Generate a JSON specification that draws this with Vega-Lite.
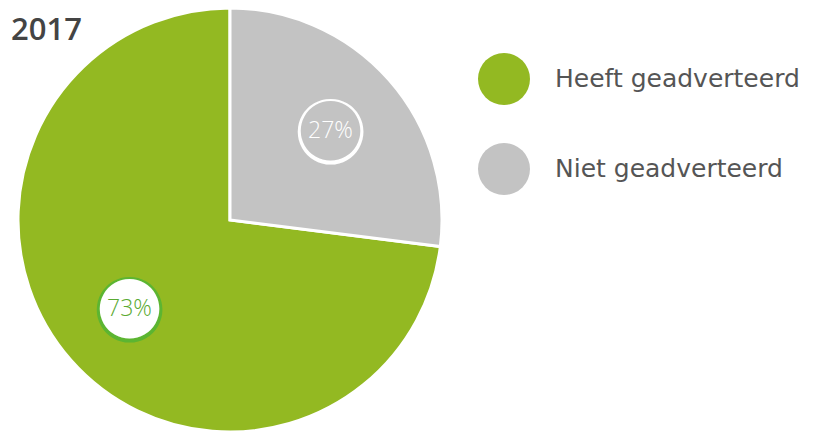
{
  "$schema": "https://vega.github.io/schema/vega-lite/v6.json",
  "autosize": "none",
  "width": 460,
  "height": 432,
  "padding": {"left": 0, "top": 4, "right": 354, "bottom": 0},
  "background": "#ffffff",
  "title": {
    "text": "2017",
    "anchor": "start",
    "frame": "group",
    "orient": "top",
    "offset": 0,
    "baseline": "alphabetic",
    "dx": 11,
    "dy": 69,
    "font": "Open Sans",
    "fontSize": 31,
    "fontWeight": 600,
    "color": "#444444"
  },
  "data": {
    "values": [
      {"category": "Heeft geadverteerd", "value": 73, "label": "73%"},
      {"category": "Niet geadverteerd", "value": 27, "label": "27%"}
    ]
  },
  "encoding": {
    "theta": {"field": "value", "type": "quantitative", "stack": true},
    "order": {"field": "value", "type": "quantitative", "sort": "ascending"}
  },
  "layer": [
    {
      "mark": {"type": "arc", "outerRadius": 212, "stroke": "#ffffff", "strokeWidth": 3},
      "encoding": {
        "color": {
          "field": "category",
          "type": "nominal",
          "scale": {"domain": ["Heeft geadverteerd", "Niet geadverteerd"], "range": ["#93b922", "#c3c3c3"]},
          "legend": {"title": null}
        }
      }
    },
    {
      "mark": {"type": "text", "radius": 134, "font": "DejaVu Sans", "fontSize": 86, "baseline": "middle", "align": "center", "dy": -3, "text": "●"},
      "encoding": {
        "fill": {"condition": {"test": "datum.category === 'Niet geadverteerd'", "value": "#ffffff"}, "value": "#5cb531"}
      }
    },
    {
      "mark": {"type": "text", "radius": 134, "font": "DejaVu Sans", "fontSize": 78, "baseline": "middle", "align": "center", "dy": -3, "text": "●"},
      "encoding": {
        "fill": {"condition": {"test": "datum.category === 'Niet geadverteerd'", "value": "#c3c3c3"}, "value": "#ffffff"}
      }
    },
    {
      "mark": {"type": "text", "radius": 134, "font": "Open Sans", "fontSize": 23, "fontWeight": 300, "baseline": "middle", "align": "center"},
      "encoding": {
        "text": {"field": "label", "type": "nominal"},
        "fill": {"condition": {"test": "datum.category === 'Niet geadverteerd'", "value": "#ffffff"}, "value": "#5aaa32"}
      }
    }
  ],
  "config": {
    "view": {"stroke": null},
    "legend": {
      "orient": "none",
      "legendX": 478,
      "legendY": 49,
      "symbolType": "circle",
      "symbolSize": 2704,
      "symbolStrokeWidth": 0,
      "labelFont": "DejaVu Sans",
      "labelFontSize": 25,
      "labelColor": "#555555",
      "labelOffset": 25,
      "labelLimit": 400,
      "rowPadding": 38
    }
  }
}
